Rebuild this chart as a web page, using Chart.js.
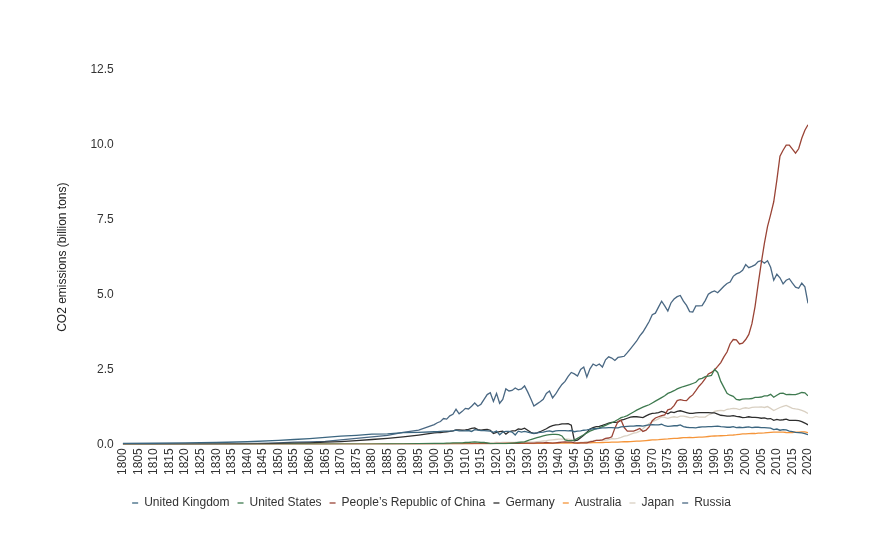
<!DOCTYPE html>
<html>
<head>
<meta charset="utf-8">
<script src="https://cdn.jsdelivr.net/npm/chart.js@4/dist/chart.umd.min.js"></script>
<style>
html,body{margin:0;padding:0;background:#fff;}
#wrap{width:893px;height:547px;position:relative;}
</style>
</head>
<body>
<div id="wrap"><canvas id="c"></canvas></div>
<script>
// Years (sparse before 1900, yearly afterwards)
const years = [1800,1810,1820,1830,1840,1850,1855,1860,1865,1870,1875,1880,1885,1890,1895,
1900,1901,1902,1903,1904,1905,1906,1907,1908,1909,
1910,1911,1912,1913,1914,1915,1916,1917,1918,1919,
1920,1921,1922,1923,1924,1925,1926,1927,1928,1929,
1930,1931,1932,1933,1934,1935,1936,1937,1938,1939,
1940,1941,1942,1943,1944,1945,1946,1947,1948,1949,
1950,1951,1952,1953,1954,1955,1956,1957,1958,1959,
1960,1961,1962,1963,1964,1965,1966,1967,1968,1969,
1970,1971,1972,1973,1974,1975,1976,1977,1978,1979,
1980,1981,1982,1983,1984,1985,1986,1987,1988,1989,
1990,1991,1992,1993,1994,1995,1996,1997,1998,1999,
2000,2001,2002,2003,2004,2005,2006,2007,2008,2009,
2010,2011,2012,2013,2014,2015,2016,2017,2018,2019,2020];

const seriesNames = ["United Kingdom","United States","People\u2019s Republic of China","Germany","Australia","Japan","Russia"];

const unitedKingdom = [0.028,0.035,0.045,0.06,0.085,0.13,0.16,0.19,0.23,0.27,0.30,0.34,0.35,0.39,0.40,
0.42,0.42,0.43,0.44,0.44,0.44,0.45,0.47,0.45,0.45,
0.45,0.46,0.43,0.49,0.47,0.46,0.46,0.45,0.44,0.40,
0.44,0.32,0.41,0.43,0.43,0.41,0.31,0.44,0.41,0.43,
0.41,0.38,0.37,0.38,0.40,0.41,0.43,0.45,0.42,0.45,
0.46,0.46,0.46,0.45,0.46,0.42,0.44,0.45,0.47,0.48,
0.50,0.52,0.52,0.53,0.55,0.55,0.56,0.56,0.55,0.55,
0.58,0.59,0.60,0.61,0.61,0.62,0.62,0.61,0.63,0.65,
0.66,0.65,0.65,0.67,0.62,0.60,0.61,0.62,0.62,0.65,
0.59,0.57,0.56,0.56,0.55,0.57,0.58,0.58,0.59,0.59,
0.60,0.61,0.59,0.58,0.57,0.57,0.59,0.56,0.57,0.56,
0.57,0.58,0.56,0.57,0.57,0.56,0.56,0.55,0.54,0.49,
0.51,0.47,0.49,0.48,0.44,0.42,0.40,0.39,0.38,0.36,0.32];

const unitedStates = [0,0,0,0,0.0003,0.0005,0.001,0.001,0.002,0.003,0.005,0.008,0.01,0.015,0.02,
0.03,0.03,0.03,0.03,0.04,0.04,0.05,0.05,0.05,0.05,
0.06,0.06,0.07,0.08,0.07,0.06,0.06,0.05,0.02,0.02,
0.02,0.02,0.02,0.02,0.03,0.04,0.05,0.06,0.07,0.08,
0.12,0.16,0.19,0.22,0.25,0.28,0.31,0.32,0.33,0.33,
0.32,0.28,0.15,0.12,0.12,0.14,0.20,0.26,0.32,0.38,
0.44,0.48,0.52,0.55,0.59,0.63,0.68,0.72,0.77,0.83,
0.89,0.92,0.96,1.02,1.08,1.14,1.19,1.24,1.28,1.32,
1.38,1.44,1.50,1.56,1.62,1.70,1.74,1.79,1.85,1.89,
1.93,1.96,1.99,2.03,2.07,2.18,2.20,2.26,2.28,2.30,
2.50,2.40,2.10,1.90,1.70,1.64,1.60,1.50,1.48,1.51,
1.52,1.52,1.53,1.57,1.57,1.58,1.62,1.62,1.67,1.57,
1.64,1.70,1.71,1.66,1.67,1.66,1.66,1.69,1.73,1.72,1.62];

const china = [0,0,0,0,0,0,0,0,0,0,0,0,0,0,0.001,
0.001,0.001,0.002,0.002,0.002,0.003,0.003,0.004,0.005,0.006,
0.008,0.009,0.01,0.012,0.013,0.015,0.016,0.018,0.019,0.02,
0.03,0.03,0.03,0.03,0.03,0.03,0.03,0.03,0.04,0.04,
0.04,0.04,0.04,0.05,0.05,0.05,0.06,0.05,0.04,0.05,
0.06,0.07,0.08,0.07,0.07,0.05,0.04,0.05,0.05,0.05,
0.08,0.10,0.13,0.13,0.15,0.20,0.21,0.25,0.54,0.76,
0.80,0.56,0.44,0.44,0.44,0.48,0.53,0.43,0.47,0.58,
0.79,0.88,0.92,0.96,0.98,1.15,1.18,1.29,1.46,1.49,
1.47,1.46,1.57,1.65,1.79,1.94,2.05,2.19,2.35,2.40,
2.48,2.60,2.73,2.92,3.08,3.36,3.50,3.49,3.35,3.38,
3.50,3.67,4.03,4.60,5.35,6.06,6.71,7.27,7.67,8.10,
8.82,9.62,9.82,9.99,9.99,9.86,9.72,9.87,10.22,10.49,10.67];

const germany = [0.0005,0.001,0.002,0.004,0.008,0.03,0.04,0.05,0.07,0.09,0.12,0.16,0.2,0.25,0.31,
0.38,0.39,0.39,0.41,0.42,0.43,0.45,0.48,0.48,0.47,
0.48,0.50,0.53,0.55,0.49,0.47,0.49,0.50,0.47,0.36,
0.40,0.42,0.44,0.34,0.42,0.45,0.45,0.51,0.50,0.54,
0.47,0.40,0.36,0.38,0.42,0.47,0.52,0.58,0.62,0.65,
0.66,0.68,0.68,0.69,0.64,0.12,0.14,0.22,0.30,0.40,
0.51,0.56,0.59,0.60,0.63,0.67,0.71,0.73,0.73,0.74,
0.81,0.83,0.87,0.91,0.92,0.92,0.91,0.89,0.95,1.00,
1.03,1.04,1.06,1.10,1.07,1.02,1.08,1.06,1.10,1.12,
1.09,1.06,1.03,1.03,1.05,1.06,1.06,1.06,1.06,1.05,
1.05,1.01,0.97,0.96,0.94,0.94,0.96,0.93,0.92,0.89,
0.90,0.92,0.90,0.90,0.89,0.87,0.88,0.85,0.86,0.80,
0.83,0.81,0.82,0.84,0.80,0.80,0.80,0.79,0.76,0.71,0.65];

const australia = [0,0,0,0,0,0.0005,0.001,0.002,0.002,0.003,0.004,0.005,0.007,0.009,0.01,
0.012,0.013,0.013,0.012,0.013,0.014,0.015,0.016,0.017,0.018,
0.02,0.021,0.023,0.024,0.023,0.022,0.021,0.022,0.023,0.022,
0.025,0.025,0.026,0.027,0.028,0.029,0.029,0.03,0.03,0.03,
0.028,0.025,0.026,0.028,0.03,0.032,0.034,0.036,0.038,0.039,
0.04,0.042,0.043,0.045,0.044,0.042,0.044,0.046,0.048,0.046,
0.05,0.053,0.055,0.057,0.06,0.065,0.067,0.07,0.071,0.074,
0.08,0.085,0.085,0.09,0.098,0.105,0.107,0.115,0.125,0.135,
0.145,0.15,0.155,0.167,0.173,0.18,0.19,0.195,0.2,0.21,
0.22,0.225,0.23,0.225,0.233,0.24,0.24,0.25,0.26,0.27,
0.278,0.28,0.285,0.29,0.295,0.305,0.31,0.32,0.335,0.345,
0.35,0.355,0.36,0.36,0.37,0.375,0.38,0.39,0.4,0.41,
0.405,0.405,0.405,0.395,0.39,0.395,0.405,0.41,0.415,0.415,0.39];

const japan = [0,0,0,0,0,0,0,0,0,0.0002,0.0005,0.001,0.002,0.004,0.008,
0.012,0.014,0.016,0.018,0.02,0.02,0.025,0.028,0.03,0.03,
0.032,0.036,0.04,0.044,0.044,0.042,0.046,0.052,0.056,0.058,
0.062,0.056,0.06,0.062,0.064,0.066,0.068,0.074,0.078,0.08,
0.078,0.07,0.074,0.086,0.1,0.11,0.12,0.14,0.15,0.16,
0.17,0.17,0.17,0.17,0.16,0.07,0.05,0.06,0.07,0.09,
0.10,0.12,0.13,0.14,0.14,0.14,0.16,0.19,0.18,0.20,
0.23,0.27,0.29,0.33,0.37,0.39,0.44,0.52,0.61,0.69,
0.76,0.80,0.85,0.92,0.90,0.87,0.90,0.92,0.90,0.94,
0.94,0.92,0.89,0.89,0.93,0.91,0.91,0.91,0.98,1.02,
1.10,1.12,1.13,1.12,1.17,1.18,1.20,1.19,1.16,1.20,
1.22,1.20,1.23,1.24,1.24,1.25,1.23,1.26,1.20,1.13,
1.18,1.23,1.27,1.30,1.25,1.20,1.18,1.17,1.13,1.09,1.03];

const russia = [0.0003,0.001,0.003,0.008,0.02,0.05,0.07,0.08,0.1,0.15,0.2,0.25,0.3,0.4,0.47,
0.66,0.72,0.76,0.86,0.84,0.95,1.00,1.17,1.02,1.10,
1.20,1.18,1.27,1.38,1.27,1.34,1.50,1.66,1.72,1.43,
1.70,1.37,1.50,1.85,1.78,1.80,1.88,1.82,1.85,1.95,
1.75,1.52,1.28,1.35,1.42,1.50,1.70,1.78,1.55,1.68,
1.85,2.00,2.10,2.27,2.40,2.35,2.28,2.50,2.58,2.25,
2.52,2.68,2.62,2.68,2.58,2.82,2.92,2.88,2.80,2.90,
2.92,2.94,3.06,3.19,3.32,3.45,3.62,3.75,3.92,4.10,
4.33,4.38,4.58,4.78,4.62,4.45,4.72,4.85,4.93,4.97,
4.78,4.64,4.43,4.42,4.62,4.62,4.63,4.80,5.01,5.08,
5.12,5.06,5.17,5.28,5.37,5.42,5.61,5.69,5.73,5.81,
6.00,5.90,5.94,5.99,6.10,6.13,6.05,6.13,5.91,5.48,
5.68,5.56,5.36,5.48,5.53,5.38,5.25,5.21,5.38,5.26,4.71];

const seriesValues = [unitedKingdom, unitedStates, china, germany, australia, japan, russia];
const seriesColors = ['#3c6680','#3f7a50','#9a4436','#2e2e2e','#f5953a','#d9d0c2','#4a6883'];

const yTickValues = [0, 2.5, 5, 7.5, 10, 12.5];
const yTitle = 'CO2 emissions (billion tons)';

const FONT = "'Liberation Sans', Arial, sans-serif";

const datasets = seriesValues.map((vals, i) => ({
  label: seriesNames[i],
  data: years.map((yr, j) => ({x: yr, y: vals[j]})),
  borderColor: seriesColors[i],
  backgroundColor: seriesColors[i],
  borderWidth: 1.3,
  pointRadius: 0,
  pointHoverRadius: 0,
  tension: 0,
  fill: false
}));

new Chart(document.getElementById('c'), {
  type: 'line',
  data: { datasets },
  options: {
    responsive: true,
    maintainAspectRatio: false,
    animation: false,
    layout: { padding: { left: 55, right: 85, top: 70, bottom: 28 } },
    plugins: {
      tooltip: { enabled: false },
      legend: {
        position: 'bottom',
        labels: {
          usePointStyle: true,
          pointStyle: 'line',
          boxWidth: 6,
          boxHeight: 6,
          pointStyleWidth: 6,
          padding: 8,
          color: '#333',
          font: { family: FONT, size: 12 }
        }
      }
    },
    scales: {
      x: {
        type: 'linear',
        min: 1800,
        max: 2020,
        grid: { display: false, drawTicks: false },
        border: { display: false },
        afterFit: function(scale) { scale.height += 10; },
        ticks: {
          stepSize: 5,
          autoSkip: false,
          maxRotation: 90,
          minRotation: 90,
          padding: 4,
          color: '#333',
          font: { family: FONT, size: 12 },
          callback: v => String(v)
        }
      },
      y: {
        min: 0,
        max: 12.5,
        grid: { display: false, drawTicks: false },
        border: { display: false },
        afterBuildTicks: function(scale) { scale.ticks = yTickValues.map(v => ({value: v})); },
        title: {
          display: true,
          text: yTitle,
          color: '#222',
          font: { family: FONT, size: 12 },
          padding: { top: 0, bottom: 12 }
        },
        ticks: {
          padding: 9,
          color: '#333',
          font: { family: FONT, size: 12 },
          callback: v => Number(v).toFixed(1)
        }
      }
    }
  }
});
</script>
</body>
</html>
